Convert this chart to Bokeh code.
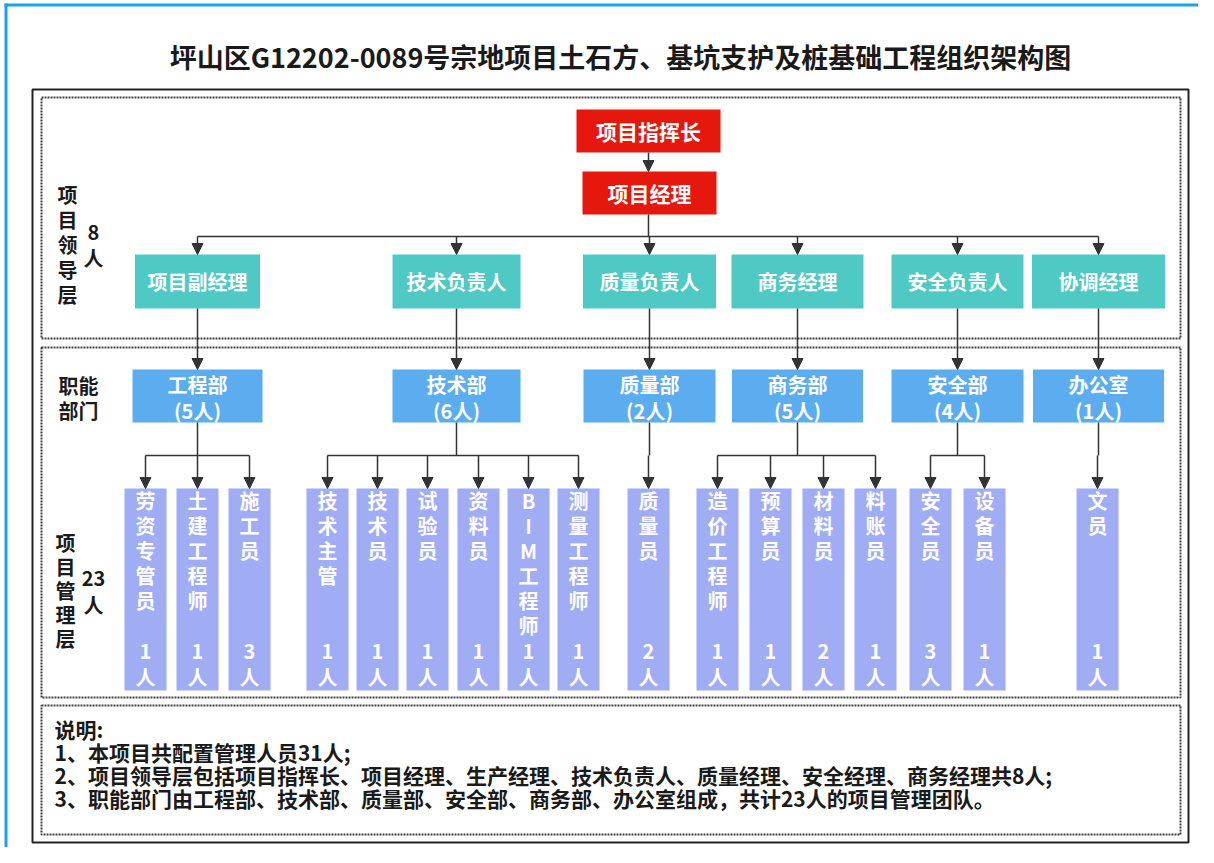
from bokeh.plotting import figure
from bokeh.models import Arrow, NormalHead, ColumnDataSource, Range1d
from bokeh.core.properties import value
from bokeh.embed import file_html
from bokeh.resources import INLINE

# ---------------- data ----------------
title_text = "坪山区G12202-0089号宗地项目土石方、基坑支护及桩基础工程组织架构图"
command_roles = ["项目指挥长", "项目经理"]
leader_roles = ["项目副经理", "技术负责人", "质量负责人", "商务经理", "安全负责人", "协调经理"]
dept_names = ["工程部", "技术部", "质量部", "商务部", "安全部", "办公室"]
dept_counts = [5, 6, 2, 5, 4, 1]
staff_names = [
    ["劳资专管员", "土建工程师", "施工员"],
    ["技术主管", "技术员", "试验员", "资料员", "BIM工程师", "测量工程师"],
    ["质量员"],
    ["造价工程师", "预算员", "材料员", "料账员"],
    ["安全员", "设备员"],
    ["文员"],
]
staff_counts = [[1, 1, 3], [1, 1, 1, 1, 1, 1], [2], [1, 1, 2, 1], [3, 1], [1]]
layer_names = ["项目领导层", "职能部门", "项目管理层"]
layer_totals = ["8", "", "23"]
notes = [
    "说明:",
    "1、本项目共配置管理人员31人;",
    "2、项目领导层包括项目指挥长、项目经理、生产经理、技术负责人、质量经理、安全经理、商务经理共8人;",
    "3、职能部门由工程部、技术部、质量部、安全部、商务部、办公室组成，共计23人的项目管理团队。",
]

# ---------------- layout (pixel space) ----------------
FONT = "Noto Sans CJK SC"
RED, TEAL, BLUE, LAV = "#e6170d", "#4fc9c4", "#5badf0", "#a0acf4"
LINE = "#333333"
col_x = [197, 456, 649, 797, 957, 1098]
leader_w = [125, 128, 133, 132, 132, 133]
dept_w = [130, 128, 132, 131, 132, 131]
cmd_box = [(576, 720, 109, 152), (582, 716, 171, 214)]
staff_x = [[145, 197, 249], [327, 377, 427, 478, 528, 578], [648],
           [717, 770, 823, 875], [930, 984], [1097]]
STAFF_W = 42
LEAD_T, LEAD_B = 254, 308
DEPT_T, DEPT_B = 369, 422
STAFF_T, STAFF_B = 488, 690
BUS1_Y, BUS2_Y = 236, 455

p = figure(width=1198, height=847, x_range=Range1d(0, 1198), y_range=Range1d(847, 0),
           output_backend="svg", toolbar_location=None, min_border=0,
           x_axis_type=None, y_axis_type=None)
p.grid.visible = False
p.outline_line_color = None
p.background_fill_color = "white"


def txt(xs, ys, texts, size, color="#1a1a1a", align="center", style="bold"):
    p.text(x=xs, y=ys, text=texts, text_font=value(FONT),
           text_font_size=value(f"{size}px"), text_font_style=style,
           text_color=color, text_align=align, text_baseline="middle")


# page edge lines
p.segment(x0=[5.5, 4], y0=[3, 4.5], x1=[5.5, 1198], y1=[847, 4.5], line_color="#1aa3ea", line_width=3)

# frames
p.quad(left=[32], right=[1188], top=[89], bottom=[842], fill_color=None,
       line_color="#222222", line_width=2)
p.quad(left=[41] * 3, right=[1180] * 3, top=[97, 347, 705], bottom=[338, 697, 834],
       fill_color=None, line_color="#444444", line_width=2, line_dash="2 1")

# title
txt([620], [56], [title_text], 27, "#1a1a1a")

# command boxes
p.quad(left=[b[0] for b in cmd_box], right=[b[1] for b in cmd_box],
       top=[b[2] for b in cmd_box], bottom=[b[3] for b in cmd_box],
       fill_color=RED, line_color=None)
txt([(b[0] + b[1]) / 2 for b in cmd_box], [(b[2] + b[3]) / 2 for b in cmd_box],
    command_roles, 21, "white")

# leader boxes
p.quad(left=[c - w / 2 for c, w in zip(col_x, leader_w)], right=[c + w / 2 for c, w in zip(col_x, leader_w)],
       top=[LEAD_T] * 6, bottom=[LEAD_B] * 6, fill_color=TEAL, line_color=None)
txt(col_x, [(LEAD_T + LEAD_B) / 2] * 6, leader_roles, 20, "white")

# dept boxes
p.quad(left=[c - w / 2 for c, w in zip(col_x, dept_w)], right=[c + w / 2 for c, w in zip(col_x, dept_w)],
       top=[DEPT_T] * 6, bottom=[DEPT_B] * 6, fill_color=BLUE, line_color=None)
txt(col_x, [384] * 6, dept_names, 20, "white")
txt(col_x, [410] * 6, [f"({n}人)" for n in dept_counts], 20, "white")

# staff boxes and vertical text
sx_all = []
cx, cy, ct = [], [], []
for xs, names, counts in zip(staff_x, staff_names, staff_counts):
    for x, name, cnt in zip(xs, names, counts):
        sx_all.append(x)
        for i, ch in enumerate(name):
            cx.append(x); cy.append(500 + 25 * i); ct.append(ch)
        cx += [x, x]; cy += [651, 676]; ct += [str(cnt), "人"]
p.quad(left=[x - STAFF_W / 2 for x in sx_all], right=[x + STAFF_W / 2 for x in sx_all],
       top=[STAFF_T] * len(sx_all), bottom=[STAFF_B] * len(sx_all), fill_color=LAV, line_color=None)
txt(cx, cy, ct, 20, "white")

# layer labels
for i, ch in enumerate(layer_names[0]):
    txt([67], [194 + 25 * i], [ch], 20)
txt([93, 93], [232, 257], [layer_totals[0], "人"], 20)
txt([78, 78], [385, 410], [layer_names[1][:2], layer_names[1][2:]], 20)
for i, ch in enumerate(layer_names[2]):
    txt([65], [542 + 24 * i], [ch], 20)
txt([93, 93], [578, 604], [layer_totals[2], "人"], 20)

# notes
txt([54] * 4, [728, 751, 774, 797], notes, 21, "#1a1a1a", align="left")

# connectors
seg = dict(x0=[], y0=[], x1=[], y1=[])
arr = dict(x0=[], y0=[], x1=[], y1=[])


def add(d, a, b, c, e):
    d["x0"].append(a); d["y0"].append(b); d["x1"].append(c); d["y1"].append(e)


mid0 = (cmd_box[0][0] + cmd_box[0][1]) / 2
add(arr, mid0, cmd_box[0][3], mid0, cmd_box[1][2])
add(seg, mid0, cmd_box[1][3], mid0, BUS1_Y)
add(seg, col_x[0], BUS1_Y, col_x[-1], BUS1_Y)
for c in col_x:
    add(arr, c, BUS1_Y, c, LEAD_T)
    add(arr, c, LEAD_B, c, DEPT_T)
for c, xs in zip(col_x, staff_x):
    add(seg, c, DEPT_B, c, BUS2_Y)
    if len(xs) > 1:
        add(seg, min(xs), BUS2_Y, max(xs), BUS2_Y)
    for x in xs:
        add(arr, x, BUS2_Y, x, STAFF_T)

p.segment(x0="x0", y0="y0", x1="x1", y1="y1", source=ColumnDataSource(seg),
          line_color=LINE, line_width=1.5)
p.add_layout(Arrow(x_start="x0", y_start="y0", x_end="x1", y_end="y1",
                   source=ColumnDataSource(arr), line_color=LINE, line_width=1.5,
                   end=NormalHead(size=11, fill_color=LINE, line_color=LINE)))

open("out.html", "w").write(file_html(p, INLINE))
